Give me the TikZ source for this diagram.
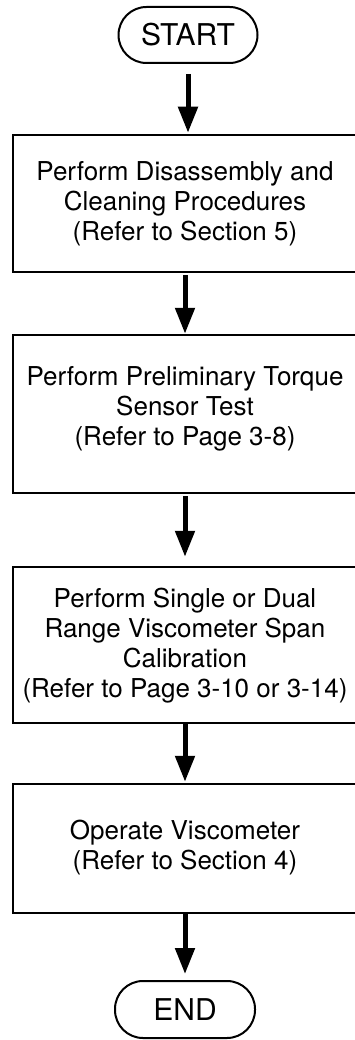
\documentclass[tikz,border=0pt]{standalone}
\usepackage{fontspec}
\setmainfont{TeX Gyre Heros}
\usetikzlibrary{arrows.meta}
\begin{document}
\begin{tikzpicture}[x=1pt,y=-1pt,
 box/.style={draw, line width=2.5pt, minimum width=344pt, inner sep=0pt},
 txt/.style={inner sep=0pt, align=center, font=\fontsize{26}{30}\selectfont},
 term/.style={draw, line width=2pt, rounded corners=28pt, minimum width=139pt, minimum height=56pt, inner sep=0pt, font=\fontsize{30}{32}\selectfont},
 flow/.style={line width=5pt, -{Triangle[width=19pt,length=26pt]}}]
\useasboundingbox (0,0) rectangle (355,1040);
\node[term] (start) at (188,35) {START};
\node[box, minimum height=137pt] (b1) at (185,203.5) {};
\node[txt] (t1) at (185,203.5) {Perform Disassembly and\\Cleaning Procedures\\(Refer to Section 5)};
\node[box, minimum height=158pt] (b2) at (185,414) {};
\node[txt] (t2) at (185,409) {Perform Preliminary Torque\\Sensor Test\\(Refer to Page 3-8)};
\node[box, minimum height=156pt] (b3) at (185,645) {};
\node[txt] (t3) at (185,646) {Perform Single or Dual\\Range Viscometer Span\\Calibration\\(Refer to Page 3-10 or 3-14)};
\node[box, minimum height=129pt] (b4) at (185,848.5) {};
\node[txt] (t4) at (185,847.5) {Operate Viscometer\\(Refer to Section 4)};
\node[term, minimum width=140pt, minimum height=57pt] (end) at (185,1009.5) {END};
\draw[flow, shorten <=10pt, shorten >=1pt] (start.south) -- (start.south |- b1.north);
\draw[flow, shorten <=2pt] (b1.south) -- (b2.north);
\draw[flow, shorten <=2pt, shorten >=9pt] (b2.south) -- (b3.north);
\draw[flow, shorten >=1pt] (b3.south) -- (b4.north);
\draw[flow, shorten >=6pt] (b4.south) -- (end.north);
\end{tikzpicture}
\end{document}
